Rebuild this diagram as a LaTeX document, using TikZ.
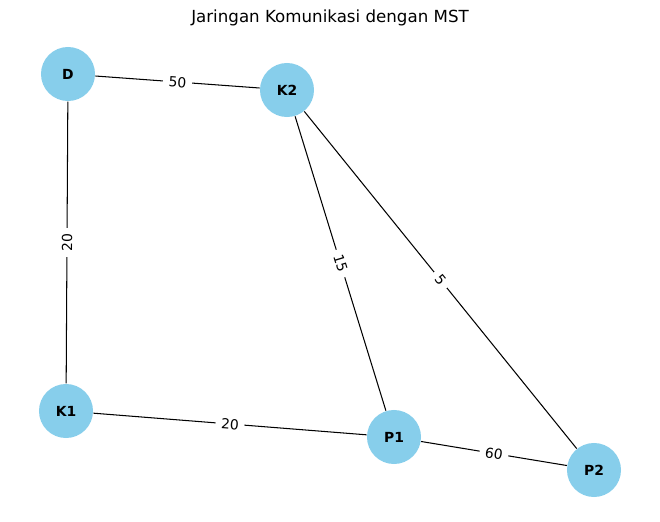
\documentclass[tikz,border=0pt]{standalone}
\usepackage{fontspec}
\setmainfont{DejaVu Sans}
\tikzset{
  kota/.style={circle, fill=skyblue, minimum size=38.9pt, inner sep=0pt, font=\fontsize{10}{12}\selectfont\bfseries},
  bobot/.style={fill=white, rounded corners=2pt, inner xsep=4pt, inner ysep=1.5pt, sloped, font=\fontsize{10}{12}\selectfont},
}
\definecolor{skyblue}{HTML}{87CEEB}
\begin{document}
\begin{tikzpicture}[x=0.72pt,y=-0.72pt,line width=0.75pt]
	% Batas gambar
	\useasboundingbox (0,0) rectangle (660,522);
	% Judul
	\node (judul) at (330,18) {\fontsize{12}{14}\selectfont Jaringan Komunikasi dengan MST};
	% Simpul-simpul
	\node[kota] (D) at (68,74) {D};
	\node[kota] (K2) at (287,90) {K2};
	\node[kota] (K1) at (66,411) {K1};
	\node[kota] (P1) at (394,437) {P1};
	\node[kota] (P2) at (594,470) {P2};
	% Sisi dan bobotnya
	\draw (D) -- node[bobot] {50} (K2);
	\draw (D) -- node[bobot] {20} (K1);
	\draw (K2) -- node[bobot] {15} (P1);
	\draw (K2) -- node[bobot] {5} (P2);
	\draw (K1) -- node[bobot] {20} (P1);
	\draw (P1) -- node[bobot] {60} (P2);
\end{tikzpicture}
\end{document}
